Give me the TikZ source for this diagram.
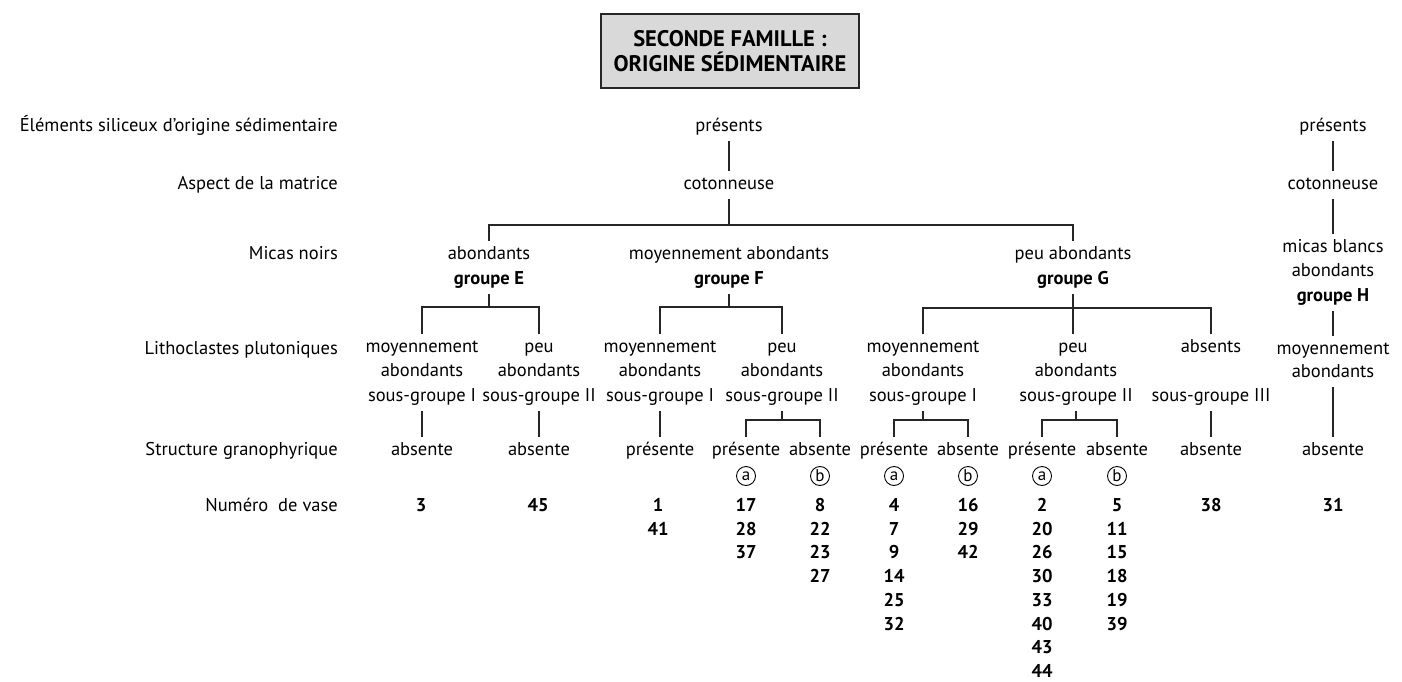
\documentclass[tikz,border=0pt]{standalone}
\usepackage{fontspec}
\setmainfont{PT Sans}
\begin{document}
\begin{tikzpicture}[x=1pt,y=-1pt,
  t/.style={font=\fontsize{18.5}{22}\selectfont, inner xsep=2pt, inner ysep=5.5pt, text height=13pt, text depth=4pt},
  bt/.style={t, font=\fontsize{18.5}{22}\selectfont\bfseries},
  lbl/.style={t, anchor=east},
  num/.style={bt},
  circ/.style={circle, draw, line width=0.9pt, inner sep=0pt, minimum size=19pt, font=\fontsize{17}{17}\selectfont},
  ln/.style={line width=1.4pt, draw=black!85},
  titlebox/.style={draw=black!85, line width=1.6pt, fill=black!15, minimum width=258pt, minimum height=74pt, align=center, font=\fontsize{22.5}{25}\selectfont\bfseries}
]
\useasboundingbox (0,0) rectangle (1402,682);

% title
\node[titlebox] (title) at (730,51) {SECONDE FAMILLE :\\ORIGINE SÉDIMENTAIRE};

% row labels
\node[lbl] (L1) at (340,127) {Éléments siliceux d'origine sédimentaire};
\node[lbl] (L2) at (340,185) {Aspect de la matrice};
\node[lbl] (L3) at (340,255) {Micas noirs};
\node[lbl] (L4) at (340,350) {Lithoclastes plutoniques};
\node[lbl] (L5) at (340,451) {Structure granophyrique};
\node[lbl] (L6) at (340,507) {Numéro\ \ de vase};

% main tree
\node[t] (pres) at (729,127) {présents};
\node[t] (cot) at (729,185) {cotonneuse};
\coordinate (barA) at (729,225);
\draw[ln] (pres.south) -- (cot.north);
\draw[ln] (cot.south) -- (barA);

% group E
\node[t] (ea) at (489,255) {abondants};
\node[bt] (eb) at (489,280) {groupe E};
% group F
\node[t] (fa) at (729,255) {moyennement abondants};
\node[bt] (fb) at (729,280) {groupe F};
% group G
\node[t] (ga) at (1073,255) {peu abondants};
\node[bt] (gb) at (1073,280) {groupe G};
\draw[ln] (ea.north) |- (barA) -| (ga.north);

% ---- E children
\coordinate (barE) at (489,307);
\node[t] (e1a) at (422,348) {moyennement};
\node[t] (e1b) at (422,372) {abondants};
\node[t] (e1c) at (422,397) {sous-groupe I};
\node[t] (e2a) at (539,348) {peu};
\node[t] (e2b) at (539,372) {abondants};
\node[t] (e2c) at (539,397) {sous-groupe II};
\draw[ln] (eb.south) -- (barE);
\draw[ln] (e1a.north) |- (barE) -| (e2a.north);
\node[t] (e1s) at (422,451) {absente};
\node[t] (e2s) at (539,451) {absente};
\draw[ln] (e1c.south) -- (e1s.north);
\draw[ln] (e2c.south) -- (e2s.north);
\node[num] (n3) at (421,507) {3};
\node[num] (n45) at (538,507) {45};

% ---- F children
\coordinate (barF) at (729,307);
\node[t] (f1a) at (660,348) {moyennement};
\node[t] (f1b) at (660,372) {abondants};
\node[t] (f1c) at (660,397) {sous-groupe I};
\node[t] (f2a) at (782,348) {peu};
\node[t] (f2b) at (782,372) {abondants};
\node[t] (f2c) at (782,397) {sous-groupe II};
\draw[ln] (fb.south) -- (barF);
\draw[ln] (f1a.north) |- (barF) -| (f2a.north);
\node[t] (f1s) at (660,451) {présente};
\draw[ln] (f1c.south) -- (f1s.north);
\coordinate (barF2) at (782,420);
\node[t] (f2p) at (746,451) {présente};
\node[t] (f2n) at (820,451) {absente};
\draw[ln] (f2c.south) -- (barF2);
\draw[ln] (f2p.north) |- (barF2) -| (f2n.north);
\node[circ] (fca) at (746,476) {a};
\node[circ] (fcb) at (820,476) {b};
\foreach \v [count=\i] in {1,41} \node[num] (nf1-\i) at (658,{507+23.7*(\i-1)}) {\v};
\foreach \v [count=\i] in {17,28,37} \node[num] (nfa-\i) at (746,{507+23.7*(\i-1)}) {\v};
\foreach \v [count=\i] in {8,22,23,27} \node[num] (nfb-\i) at (820,{507+23.7*(\i-1)}) {\v};

% ---- G children
\coordinate (barG) at (1073,308);
\node[t] (g1a) at (923,348) {moyennement};
\node[t] (g1b) at (923,372) {abondants};
\node[t] (g1c) at (923,397) {sous-groupe I};
\node[t] (g2a) at (1073,348) {peu};
\node[t] (g2b) at (1076,372) {abondants};
\node[t] (g2c) at (1076,397) {sous-groupe II};
\node[t] (g3a) at (1211,348) {absents};
\node[t] (g3c) at (1211,397) {sous-groupe III};
\draw[ln] (gb.south) -- (g2a.north);
\draw[ln] (g1a.north) |- (barG) -| (g3a.north);

\coordinate (barG1) at (929,420);
\node[t] (g1p) at (894,451) {présente};
\node[t] (g1n) at (968,451) {absente};
\draw[ln] (g1c.south) -- (g1c.south |- barG1);
\draw[ln] (g1p.north) |- (barG1) -| (g1n.north);
\node[circ] (gca) at (894,476) {a};
\node[circ] (gcb) at (968,476) {b};

\coordinate (barG2) at (1078,420);
\node[t] (g2p) at (1042,451) {présente};
\node[t] (g2n) at (1117,451) {absente};
\draw[ln] (g2c.south) -- (g2c.south |- barG2);
\draw[ln] (g2p.north) |- (barG2) -| (g2n.north);
\node[circ] (gcc) at (1042,476) {a};
\node[circ] (gcd) at (1117,476) {b};

\node[t] (g3s) at (1211,451) {absente};
\draw[ln] (g3c.south) -- (g3s.north);

\foreach \v [count=\i] in {4,7,9,14,25,32} \node[num] (nga-\i) at (894,{507+23.7*(\i-1)}) {\v};
\foreach \v [count=\i] in {16,29,42} \node[num] (ngb-\i) at (968,{507+23.7*(\i-1)}) {\v};
\foreach \v [count=\i] in {2,20,26,30,33,40,43,44} \node[num] (ngc-\i) at (1042,{507+23.7*(\i-1)}) {\v};
\foreach \v [count=\i] in {5,11,15,18,19,39} \node[num] (ngd-\i) at (1117,{507+23.7*(\i-1)}) {\v};
\node[num] (n38) at (1211,507) {38};

% ---- H column
\node[t] (hpres) at (1333,127) {présents};
\node[t] (hcot) at (1333,185) {cotonneuse};
\node[t] (hm1) at (1333,248) {micas blancs};
\node[t] (hm2) at (1333,272) {abondants};
\node[bt] (hm3) at (1333,297) {groupe H};
\node[t] (hl1) at (1333,350) {moyennement};
\node[t] (hl2) at (1333,373) {abondants};
\node[t] (hs) at (1333,451) {absente};
\node[num] (n31) at (1333,507) {31};
\draw[ln] (hpres.south) -- (hcot.north);
\draw[ln] (hcot.south) -- (hm1.north);
\draw[ln] (hm3.south) -- (hl1.north);
\draw[ln] (hl2.south) -- (hs.north);
\end{tikzpicture}
\end{document}
